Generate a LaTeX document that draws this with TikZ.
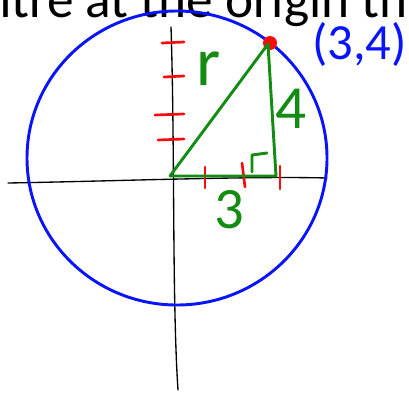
\documentclass[tikz,border=0pt]{standalone}
\usepackage{fontspec}
\setmainfont{Carlito}
\usetikzlibrary{positioning}
\definecolor{penblue}{RGB}{10,20,250}
\definecolor{pengreen}{RGB}{20,140,20}
\definecolor{penred}{RGB}{250,10,10}

\begin{document}
\begin{tikzpicture}[x=0.75pt,y=-0.75pt,
  axis/.style={line width=1pt, black, line cap=round},
  ring/.style={line width=2.2pt, penblue},
  leg/.style={line width=2.2pt, pengreen, line join=round, line cap=round},
  tickmark/.style={line width=2pt, penred, line cap=round},
  dot/.style={circle, fill=penred, inner sep=0pt, minimum size=10.5pt},
  hand/.style={inner sep=0pt, text=pengreen}]

\useasboundingbox (0,0) rectangle (409,393);
\clip (0,0) rectangle (409,393);

% heading line, cut off by the top edge
\node[anchor=base west, inner sep=0pt,
  font=\fontsize{40}{40}\selectfont] (heading) at (-43,17.5)
  {entre at the origin th};

% axes
\coordinate (xl) at (8,183);
\coordinate (xr) at (327,178);
\coordinate (yt) at (171,27);
\coordinate (yb) at (178,390);
\draw[axis] (xl) .. controls (120,181) and (250,176) .. (xr);
\draw[axis] (yt) .. controls (175,150) and (172,300) .. (yb);

% circle through the point
\coordinate (centre) at (177,158);
\draw[ring] (centre) ellipse [x radius=150, y radius=147];

% marks on the axes
\foreach \y/\l in {43/162, 77/164, 115/155, 140/158}
  \draw[tickmark] (\l,\y) -- (184,\y-1);
\draw[tickmark] (205,167) -- (205,188);
\draw[tickmark] (242,163) -- (245,187);
\draw[tickmark] (280,166) -- (280,189);

% the point and the triangle
\node[dot] (pt) at (270,43) {};
\coordinate (O) at (170,176);
\coordinate (P) at (268,44);
\coordinate (Q) at (276,176);
\draw[leg] (O) -- (P) -- (Q) -- (O);
\draw[leg] (252,172) -- (252,155) -- (267,153);

% labels
\node[hand, font=\fontsize{52}{52}\selectfont] (rlab) at (209,69) {r};
\node[hand, font=\fontsize{46}{46}\selectfont] (ylab) at (291,109) {4};
\node[hand, font=\fontsize{44}{44}\selectfont] (xlab) at (229,210) {3};
\node[anchor=west, inner sep=0pt, text=penblue,
  font=\fontsize{38}{38}\selectfont] (coord) at (312,44) {(3,4)};

\end{tikzpicture}
\end{document}
